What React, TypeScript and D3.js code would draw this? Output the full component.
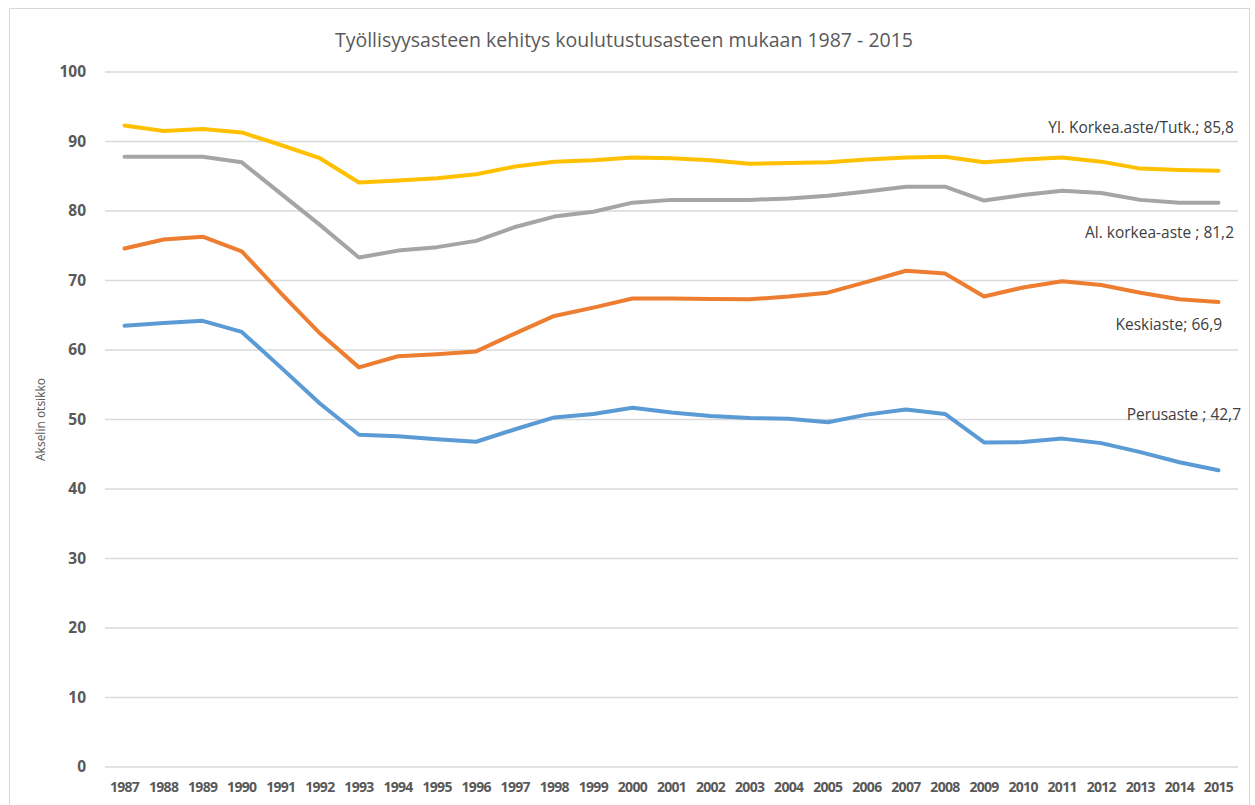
import React from 'react'
import * as d3 from 'd3'

// Years on the x axis
const years = [
  1987, 1988, 1989, 1990, 1991, 1992, 1993, 1994, 1995, 1996, 1997, 1998, 1999, 2000, 2001,
  2002, 2003, 2004, 2005, 2006, 2007, 2008, 2009, 2010, 2011, 2012, 2013, 2014, 2015,
]

// Employment rate by education level
const ylKorkea = [
  92.3, 91.5, 91.8, 91.3, 89.5, 87.6, 84.1, 84.4, 84.7, 85.3, 86.4, 87.1, 87.3, 87.7, 87.6,
  87.3, 86.8, 86.9, 87.0, 87.4, 87.7, 87.8, 87.0, 87.4, 87.7, 87.1, 86.1, 85.9, 85.8,
]
const alKorkea = [
  87.8, 87.8, 87.8, 87.0, 82.5, 78.0, 73.3, 74.3, 74.8, 75.7, 77.7, 79.2, 79.9, 81.2, 81.6,
  81.6, 81.6, 81.8, 82.2, 82.8, 83.5, 83.5, 81.5, 82.3, 82.9, 82.6, 81.6, 81.2, 81.2,
]
const keskiaste = [
  74.6, 75.9, 76.3, 74.2, 68.2, 62.4, 57.5, 59.1, 59.4, 59.8, 62.4, 64.9, 66.1, 67.4, 67.4,
  67.35, 67.3, 67.7, 68.25, 69.8, 71.4, 71.0, 67.7, 69.0, 69.9, 69.35, 68.25, 67.3, 66.9,
]
const perusaste = [
  63.5, 63.9, 64.2, 62.6, 57.5, 52.3, 47.8, 47.6, 47.15, 46.8, 48.6, 50.3, 50.8, 51.7, 51.0,
  50.5, 50.2, 50.1, 49.6, 50.7, 51.45, 50.8, 46.7, 46.75, 47.25, 46.6, 45.3, 43.85, 42.7,
]

const yTicks = [0, 10, 20, 30, 40, 50, 60, 70, 80, 90, 100]

const series = [
  { name: 'Yl. Korkea.aste/Tutk.', label: 'Yl. Korkea.aste/Tutk.; 85,8', values: ylKorkea, color: '#FFC000', lx: 1234, ly: 128 },
  { name: 'Al. korkea-aste', label: 'Al. korkea-aste ; 81,2', values: alKorkea, color: '#A5A5A5', lx: 1234, ly: 233 },
  { name: 'Keskiaste', label: 'Keskiaste; 66,9', values: keskiaste, color: '#ED7D31', lx: 1222, ly: 325 },
  { name: 'Perusaste', label: 'Perusaste ; 42,7', values: perusaste, color: '#5B9BD5', lx: 1241, ly: 415 },
]

const W = 1255
const H = 805
const margin = { top: 72, right: 17, bottom: 38, left: 105 }
const font = '"Open Sans", "Liberation Sans", sans-serif'

export default function App() {
  const x = d3
    .scaleBand()
    .domain(years.map(String))
    .range([margin.left, W - margin.right])
  const y = d3
    .scaleLinear()
    .domain([0, 100])
    .range([H - margin.bottom, margin.top])

  const line = d3
    .line<number>()
    .x((d, i) => x(String(years[i])) + x.bandwidth() / 2)
    .y(d => y(d))

  return (
    <svg width={W} height={H} style={{ position: 'absolute', left: 0, top: 0, background: '#fff' }}>
      <rect x={9.5} y={8.5} width={1240} height={H} fill="#fff" stroke="#D9D9D9" />
      <text x={624} y={47} textAnchor="middle" fontFamily={font} fontSize={19.5} fill="#595959">
        Työllisyysasteen kehitys koulutustusasteen mukaan 1987 - 2015
      </text>
      {yTicks.map(t => (
        <g key={t}>
          <line x1={margin.left} x2={W - margin.right} y1={y(t)} y2={y(t)} stroke="#D9D9D9" strokeWidth={1.3} />
          <text x={86} y={y(t)} dy="0.35em" textAnchor="end" fontFamily={font} fontWeight="bold" fontSize={15.5} fill="#595959">
            {t}
          </text>
        </g>
      ))}
      {years.map(yr => (
        <text
          key={yr}
          x={x(String(yr)) + x.bandwidth() / 2}
          y={792}
          textAnchor="middle"
          fontFamily={font}
          fontWeight="bold"
          fontSize={14}
          letterSpacing={-0.7}
          fill="#595959"
        >
          {yr}
        </text>
      ))}
      <text
        transform={`translate(45,${(y(0) + y(100)) / 2}) rotate(-90)`}
        textAnchor="middle"
        fontFamily={font}
        fontSize={12}
        fill="#595959"
      >
        Akselin otsikko
      </text>
      {series.map(s => (
        <path
          key={s.name}
          d={line(s.values)}
          fill="none"
          stroke={s.color}
          strokeWidth={4}
          strokeLinejoin="round"
          strokeLinecap="round"
        />
      ))}
      {series.map(s => (
        <text key={s.name} x={s.lx} y={s.ly} dy="0.35em" textAnchor="end" fontFamily={font} fontSize={15.5} fill="#404040">
          {s.label}
        </text>
      ))}
    </svg>
  )
}
